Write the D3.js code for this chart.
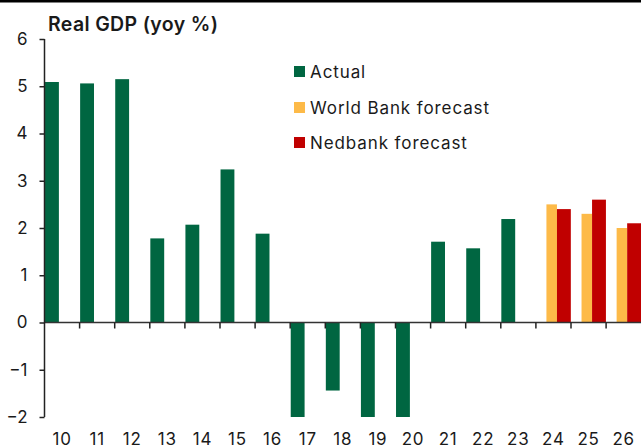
<!DOCTYPE html>
<html>
<head>
<meta charset="utf-8">
<script src="https://cdn.jsdelivr.net/npm/d3@7"></script>
<style>
  html, body { margin: 0; padding: 0; background: #fff; }
  svg { display: block; }
  text { font-family: Inter, "Open Sans", sans-serif; fill: #1a1a1a; }
</style>
</head>
<body>
<svg id="chart" width="641" height="447"></svg>
<script>
// Real GDP growth, year-on-year %, by year (two-digit labels)
const years = ["10","11","12","13","14","15","16","17","18","19","20","21","22","23","24","25","26"];
const actual = [5.09, 5.06, 5.15, 1.78, 2.07, 3.24, 1.88, -2.0, -1.44, -2.0, -2.0, 1.71, 1.57, 2.19, null, null, null];
const worldBank = [null, null, null, null, null, null, null, null, null, null, null, null, null, null, 2.5, 2.3, 2.0];
const nedbank = [null, null, null, null, null, null, null, null, null, null, null, null, null, null, 2.4, 2.6, 2.1];
const yTicks = [-2, -1, 0, 1, 2, 3, 4, 5, 6];

const seriesNames = ["Actual", "World Bank forecast", "Nedbank forecast"];
const colors = ["#006641", "#FDBA48", "#C00000"];
// horizontal placement of each series within its year slot (fraction of the slot)
const slots = [[0.015, 0.41], [0.30, 0.60], [0.60, 0.995]];

const svg = d3.select("#chart");
const W = 641, H = 447;

const x = d3.scaleBand().domain(years).range([44.5, 641.2]).paddingInner(0).paddingOuter(0);
const y = d3.scaleLinear().domain([-2, 6]).range([417, 39]).clamp(true);

// top rule
svg.append("rect").attr("x", 0).attr("y", 0).attr("width", W).attr("height", 2.5).attr("fill", "#000");

// bars
const allSeries = [actual, worldBank, nedbank];
allSeries.forEach((vals, si) => {
  const data = years.map((yr, i) => ({ yr, v: vals[i] })).filter(d => d.v !== null);
  svg.append("g").selectAll("rect").data(data).join("rect")
    .attr("x", d => x(d.yr) + slots[si][0] * x.bandwidth())
    .attr("width", (slots[si][1] - slots[si][0]) * x.bandwidth())
    .attr("y", d => Math.min(y(d.v), y(0)))
    .attr("height", d => Math.abs(y(d.v) - y(0)))
    .attr("fill", colors[si]);
});

// zero line with category boundary ticks
const xAxis = svg.append("g");
xAxis.append("line")
  .attr("x1", 44.5).attr("x2", W).attr("y1", y(0)).attr("y2", y(0))
  .attr("stroke", "#333").attr("stroke-width", 1.5);
xAxis.selectAll("line.tick").data(years.slice(1)).join("line")
  .attr("class", "tick")
  .attr("x1", d => x(d)).attr("x2", d => x(d))
  .attr("y1", y(0)).attr("y2", y(0) + 6)
  .attr("stroke", "#222").attr("stroke-width", 1.5);

// year labels along the bottom
svg.append("g").selectAll("text").data(years).join("text")
  .attr("x", d => x(d) + x.bandwidth() / 2)
  .attr("y", 444.5)
  .attr("text-anchor", "middle")
  .attr("font-size", 17)
  .attr("letter-spacing", 0.8)
  .text(d => d);

// y axis
const yAxis = d3.axisLeft(y).tickValues(yTicks).tickSize(5).tickPadding(12).tickFormat(d3.format("d"));
const gy = svg.append("g").attr("transform", "translate(44.5,0)").call(yAxis);
gy.select(".domain").attr("stroke", "#222").attr("stroke-width", 1.5).attr("d", `M0,${y(6)}V${y(-2)}`);
gy.selectAll(".tick line").attr("stroke", "#222").attr("stroke-width", 1.5);
gy.selectAll(".tick text")
  .attr("font-family", "Inter, 'Open Sans', sans-serif")
  .attr("font-size", 17)
  .attr("fill", "#1a1a1a");

// title
svg.append("text")
  .attr("x", 48).attr("y", 31)
  .attr("font-size", 19.5)
  .attr("font-weight", 600)
  .attr("letter-spacing", 0.35)
  .text("Real GDP (yoy %)");

// legend
const legend = svg.append("g");
const legendRows = [71.5, 107.5, 142.5];
seriesNames.forEach((name, i) => {
  legend.append("rect")
    .attr("x", 294).attr("y", legendRows[i] - 5.5)
    .attr("width", 11).attr("height", 11)
    .attr("fill", colors[i]);
  legend.append("text")
    .attr("x", 310).attr("y", legendRows[i] + 6)
    .attr("font-size", 17)
    .attr("letter-spacing", 0.9)
    .text(name);
});
</script>
</body>
</html>
